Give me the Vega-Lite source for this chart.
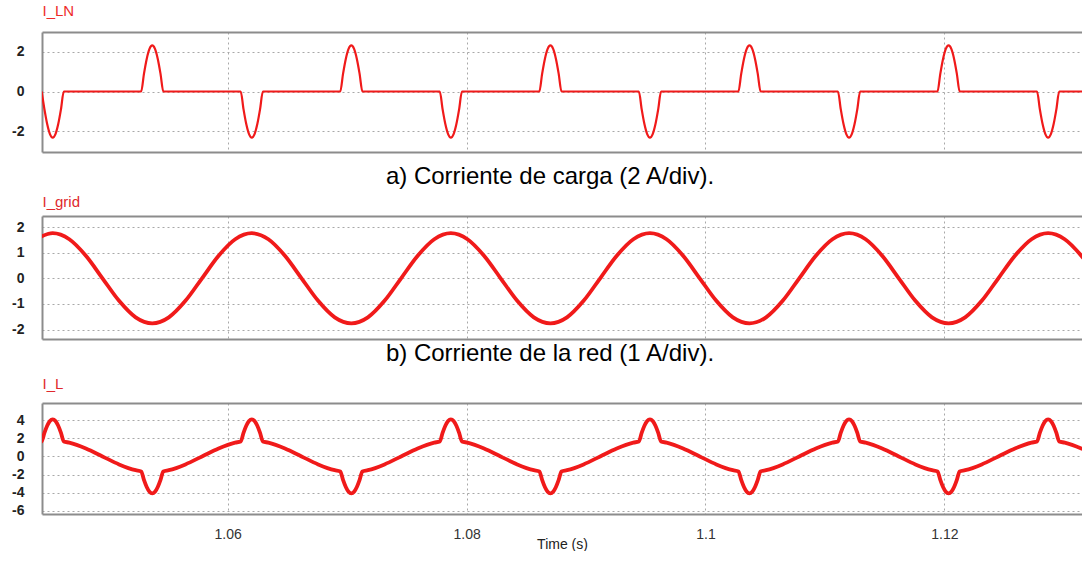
{
"$schema": "https://vega.github.io/schema/vega-lite/v6.json",
"padding": {"left": 11, "top": 3, "right": 0, "bottom": 0},
"background": "white",
"bounds": "flush",
"spacing": 64,
"config": {
  "font": "Liberation Sans",
  "view": {"stroke": null},
  "axis": {"gridColor": "#a8a8a8", "gridDash": [2, 3], "gridWidth": 1, "domainColor": "#8c8c8c", "domainWidth": 2, "ticks": false, "tickSize": 0, "labelFont": "Liberation Sans", "labelColor": "#111", "labelFontSize": 14, "labelOverlap": false, "titleFont": "Liberation Sans"},
  "axisLeft": {"labelFontWeight": "bold", "labelOverlap": false, "labelColor": "#222", "labelFontSize": 14},
  "title": {"font": "Liberation Sans"}
},
"datasets": {
"ln": [
{"t":1.044424,"v":0},{"t":1.044656,"v":-0.892},{"t":1.044887,"v":-1.647},{"t":1.045119,"v":-2.153},{"t":1.04535,"v":-2.33},{"t":1.045581,"v":-2.153},{"t":1.045813,"v":-1.647},{"t":1.046044,"v":-0.892},{"t":1.046276,"v":0},
{"t":1.052757,"v":0},{"t":1.052989,"v":0.892},{"t":1.05322,"v":1.647},{"t":1.053452,"v":2.153},{"t":1.053683,"v":2.33},{"t":1.053914,"v":2.153},{"t":1.054146,"v":1.647},{"t":1.054377,"v":0.892},{"t":1.054609,"v":0},
{"t":1.061091,"v":0},{"t":1.061323,"v":-0.892},{"t":1.061554,"v":-1.647},{"t":1.061786,"v":-2.153},{"t":1.062017,"v":-2.33},{"t":1.062248,"v":-2.153},{"t":1.06248,"v":-1.647},{"t":1.062711,"v":-0.892},{"t":1.062943,"v":0},
{"t":1.069424,"v":0},{"t":1.069656,"v":0.892},{"t":1.069887,"v":1.647},{"t":1.070119,"v":2.153},{"t":1.07035,"v":2.33},{"t":1.070581,"v":2.153},{"t":1.070813,"v":1.647},{"t":1.071044,"v":0.892},{"t":1.071276,"v":0},
{"t":1.077757,"v":0},{"t":1.077989,"v":-0.892},{"t":1.07822,"v":-1.647},{"t":1.078452,"v":-2.153},{"t":1.078683,"v":-2.33},{"t":1.078914,"v":-2.153},{"t":1.079146,"v":-1.647},{"t":1.079377,"v":-0.892},{"t":1.079609,"v":0},
{"t":1.086091,"v":0},{"t":1.086323,"v":0.892},{"t":1.086554,"v":1.647},{"t":1.086786,"v":2.153},{"t":1.087017,"v":2.33},{"t":1.087248,"v":2.153},{"t":1.08748,"v":1.647},{"t":1.087711,"v":0.892},{"t":1.087943,"v":0},
{"t":1.094424,"v":0},{"t":1.094656,"v":-0.892},{"t":1.094887,"v":-1.647},{"t":1.095119,"v":-2.153},{"t":1.09535,"v":-2.33},{"t":1.095581,"v":-2.153},{"t":1.095813,"v":-1.647},{"t":1.096044,"v":-0.892},{"t":1.096276,"v":0},
{"t":1.102757,"v":0},{"t":1.102989,"v":0.892},{"t":1.10322,"v":1.647},{"t":1.103452,"v":2.153},{"t":1.103683,"v":2.33},{"t":1.103914,"v":2.153},{"t":1.104146,"v":1.647},{"t":1.104377,"v":0.892},{"t":1.104609,"v":0},
{"t":1.111091,"v":0},{"t":1.111323,"v":-0.892},{"t":1.111554,"v":-1.647},{"t":1.111786,"v":-2.153},{"t":1.112017,"v":-2.33},{"t":1.112248,"v":-2.153},{"t":1.11248,"v":-1.647},{"t":1.112711,"v":-0.892},{"t":1.112943,"v":0},
{"t":1.119424,"v":0},{"t":1.119656,"v":0.892},{"t":1.119887,"v":1.647},{"t":1.120119,"v":2.153},{"t":1.12035,"v":2.33},{"t":1.120581,"v":2.153},{"t":1.120813,"v":1.647},{"t":1.121044,"v":0.892},{"t":1.121276,"v":0},
{"t":1.127757,"v":0},{"t":1.127989,"v":-0.892},{"t":1.12822,"v":-1.647},{"t":1.128452,"v":-2.153},{"t":1.128683,"v":-2.33},{"t":1.128914,"v":-2.153},{"t":1.129146,"v":-1.647},{"t":1.129377,"v":-0.892},{"t":1.129609,"v":0},
{"t":1.1325,"v":0}
],
"grid": [
{"t":1.043961,"v":1.524},
{"t":1.04535,"v":1.76},{"t":1.046739,"v":1.524},{"t":1.048128,"v":0.88},{"t":1.049517,"v":0},{"t":1.050906,"v":-0.88},{"t":1.052294,"v":-1.524},{"t":1.053683,"v":-1.76},{"t":1.055072,"v":-1.524},{"t":1.056461,"v":-0.88},{"t":1.05785,"v":0},{"t":1.059239,"v":0.88},{"t":1.060628,"v":1.524},
{"t":1.062017,"v":1.76},{"t":1.063406,"v":1.524},{"t":1.064794,"v":0.88},{"t":1.066183,"v":0},{"t":1.067572,"v":-0.88},{"t":1.068961,"v":-1.524},{"t":1.07035,"v":-1.76},{"t":1.071739,"v":-1.524},{"t":1.073128,"v":-0.88},{"t":1.074517,"v":0},{"t":1.075906,"v":0.88},{"t":1.077294,"v":1.524},
{"t":1.078683,"v":1.76},{"t":1.080072,"v":1.524},{"t":1.081461,"v":0.88},{"t":1.08285,"v":0},{"t":1.084239,"v":-0.88},{"t":1.085628,"v":-1.524},{"t":1.087017,"v":-1.76},{"t":1.088406,"v":-1.524},{"t":1.089794,"v":-0.88},{"t":1.091183,"v":0},{"t":1.092572,"v":0.88},{"t":1.093961,"v":1.524},
{"t":1.09535,"v":1.76},{"t":1.096739,"v":1.524},{"t":1.098128,"v":0.88},{"t":1.099517,"v":0},{"t":1.100906,"v":-0.88},{"t":1.102294,"v":-1.524},{"t":1.103683,"v":-1.76},{"t":1.105072,"v":-1.524},{"t":1.106461,"v":-0.88},{"t":1.10785,"v":0},{"t":1.109239,"v":0.88},{"t":1.110628,"v":1.524},
{"t":1.112017,"v":1.76},{"t":1.113406,"v":1.524},{"t":1.114794,"v":0.88},{"t":1.116183,"v":0},{"t":1.117572,"v":-0.88},{"t":1.118961,"v":-1.524},{"t":1.12035,"v":-1.76},{"t":1.121739,"v":-1.524},{"t":1.123128,"v":-0.88},{"t":1.124517,"v":0},{"t":1.125906,"v":0.88},{"t":1.127294,"v":1.524},
{"t":1.128683,"v":1.76},{"t":1.130072,"v":1.524},{"t":1.131461,"v":0.88},{"t":1.13285,"v":0}
],
"il": [
{"t":1.043961,"v":1.524},
{"t":1.044424,"v":1.654},{"t":1.044656,"v":2.592},{"t":1.044887,"v":3.38},{"t":1.045119,"v":3.906},{"t":1.04535,"v":4.09},{"t":1.045581,"v":3.906},{"t":1.045813,"v":3.38},{"t":1.046044,"v":2.592},{"t":1.046276,"v":1.654},
{"t":1.046739,"v":1.524},{"t":1.048128,"v":0.88},{"t":1.049517,"v":0},{"t":1.050906,"v":-0.88},{"t":1.052294,"v":-1.524},
{"t":1.052757,"v":-1.654},{"t":1.052989,"v":-2.592},{"t":1.05322,"v":-3.38},{"t":1.053452,"v":-3.906},{"t":1.053683,"v":-4.09},{"t":1.053914,"v":-3.906},{"t":1.054146,"v":-3.38},{"t":1.054377,"v":-2.592},{"t":1.054609,"v":-1.654},
{"t":1.055072,"v":-1.524},{"t":1.056461,"v":-0.88},{"t":1.05785,"v":0},{"t":1.059239,"v":0.88},{"t":1.060628,"v":1.524},
{"t":1.061091,"v":1.654},{"t":1.061323,"v":2.592},{"t":1.061554,"v":3.38},{"t":1.061786,"v":3.906},{"t":1.062017,"v":4.09},{"t":1.062248,"v":3.906},{"t":1.06248,"v":3.38},{"t":1.062711,"v":2.592},{"t":1.062943,"v":1.654},
{"t":1.063406,"v":1.524},{"t":1.064794,"v":0.88},{"t":1.066183,"v":0},{"t":1.067572,"v":-0.88},{"t":1.068961,"v":-1.524},
{"t":1.069424,"v":-1.654},{"t":1.069656,"v":-2.592},{"t":1.069887,"v":-3.38},{"t":1.070119,"v":-3.906},{"t":1.07035,"v":-4.09},{"t":1.070581,"v":-3.906},{"t":1.070813,"v":-3.38},{"t":1.071044,"v":-2.592},{"t":1.071276,"v":-1.654},
{"t":1.071739,"v":-1.524},{"t":1.073128,"v":-0.88},{"t":1.074517,"v":0},{"t":1.075906,"v":0.88},{"t":1.077294,"v":1.524},
{"t":1.077757,"v":1.654},{"t":1.077989,"v":2.592},{"t":1.07822,"v":3.38},{"t":1.078452,"v":3.906},{"t":1.078683,"v":4.09},{"t":1.078914,"v":3.906},{"t":1.079146,"v":3.38},{"t":1.079377,"v":2.592},{"t":1.079609,"v":1.654},
{"t":1.080072,"v":1.524},{"t":1.081461,"v":0.88},{"t":1.08285,"v":0},{"t":1.084239,"v":-0.88},{"t":1.085628,"v":-1.524},
{"t":1.086091,"v":-1.654},{"t":1.086323,"v":-2.592},{"t":1.086554,"v":-3.38},{"t":1.086786,"v":-3.906},{"t":1.087017,"v":-4.09},{"t":1.087248,"v":-3.906},{"t":1.08748,"v":-3.38},{"t":1.087711,"v":-2.592},{"t":1.087943,"v":-1.654},
{"t":1.088406,"v":-1.524},{"t":1.089794,"v":-0.88},{"t":1.091183,"v":0},{"t":1.092572,"v":0.88},{"t":1.093961,"v":1.524},
{"t":1.094424,"v":1.654},{"t":1.094656,"v":2.592},{"t":1.094887,"v":3.38},{"t":1.095119,"v":3.906},{"t":1.09535,"v":4.09},{"t":1.095581,"v":3.906},{"t":1.095813,"v":3.38},{"t":1.096044,"v":2.592},{"t":1.096276,"v":1.654},
{"t":1.096739,"v":1.524},{"t":1.098128,"v":0.88},{"t":1.099517,"v":0},{"t":1.100906,"v":-0.88},{"t":1.102294,"v":-1.524},
{"t":1.102757,"v":-1.654},{"t":1.102989,"v":-2.592},{"t":1.10322,"v":-3.38},{"t":1.103452,"v":-3.906},{"t":1.103683,"v":-4.09},{"t":1.103914,"v":-3.906},{"t":1.104146,"v":-3.38},{"t":1.104377,"v":-2.592},{"t":1.104609,"v":-1.654},
{"t":1.105072,"v":-1.524},{"t":1.106461,"v":-0.88},{"t":1.10785,"v":0},{"t":1.109239,"v":0.88},{"t":1.110628,"v":1.524},
{"t":1.111091,"v":1.654},{"t":1.111323,"v":2.592},{"t":1.111554,"v":3.38},{"t":1.111786,"v":3.906},{"t":1.112017,"v":4.09},{"t":1.112248,"v":3.906},{"t":1.11248,"v":3.38},{"t":1.112711,"v":2.592},{"t":1.112943,"v":1.654},
{"t":1.113406,"v":1.524},{"t":1.114794,"v":0.88},{"t":1.116183,"v":0},{"t":1.117572,"v":-0.88},{"t":1.118961,"v":-1.524},
{"t":1.119424,"v":-1.654},{"t":1.119656,"v":-2.592},{"t":1.119887,"v":-3.38},{"t":1.120119,"v":-3.906},{"t":1.12035,"v":-4.09},{"t":1.120581,"v":-3.906},{"t":1.120813,"v":-3.38},{"t":1.121044,"v":-2.592},{"t":1.121276,"v":-1.654},
{"t":1.121739,"v":-1.524},{"t":1.123128,"v":-0.88},{"t":1.124517,"v":0},{"t":1.125906,"v":0.88},{"t":1.127294,"v":1.524},
{"t":1.127757,"v":1.654},{"t":1.127989,"v":2.592},{"t":1.12822,"v":3.38},{"t":1.128452,"v":3.906},{"t":1.128683,"v":4.09},{"t":1.128914,"v":3.906},{"t":1.129146,"v":3.38},{"t":1.129377,"v":2.592},{"t":1.129609,"v":1.654},
{"t":1.130072,"v":1.524},{"t":1.131461,"v":0.88},{"t":1.13285,"v":0}
]
},
"vconcat": [
{
  "width": 1040, "height": 120,
  "data": {"name": "ln"},
  "title": {"text": "a) Corriente de carga (2 A/div).", "orient": "bottom", "anchor": "middle", "frame": "group", "fontSize": 24, "fontWeight": "normal", "color": "#000", "offset": 13, "dx": -12},
  "layer": [
    {"mark": {"type": "line", "color": "#f01a1a", "strokeWidth": 2.2, "clip": true, "interpolate": "monotone"},
     "encoding": {
       "x": {"field": "t", "type": "quantitative", "scale": {"domain": [1.044454, 1.13152], "nice": false, "zero": false},
             "axis": {"orient": "bottom", "values": [1.06, 1.08, 1.1, 1.12], "labels": false, "grid": true, "domain": true, "title": null}},
       "y": {"field": "v", "type": "quantitative", "scale": {"domain": [-3.06, 3.01], "nice": false, "zero": false},
             "axis": {"values": [-2, 0, 2], "grid": true, "domain": true, "labelPadding": 18, "labelOverlap": false, "labelFontSize": 14, "labelFontWeight": "bold", "labelColor": "#222", "labelExpr": "toString(datum.value)", "title": "I_LN", "titleAngle": 0, "titleAlign": "left", "titleBaseline": "alphabetic", "titleX": 0, "titleY": -17, "titleColor": "#ee2a2a", "titleFontSize": 15, "titleFontWeight": "normal"}}
     }},
    {"mark": {"type": "rule", "opacity": 0, "clip": true},
     "encoding": {
       "x": {"field": "t", "type": "quantitative", "scale": {"domain": [1.044454, 1.13152], "nice": false, "zero": false},
             "axis": {"orient": "top", "labels": false, "grid": false, "domain": true, "title": null}}
     }}
  ],
  "resolve": {"axis": {"x": "independent"}}
},
{
  "width": 1040, "height": 123,
  "data": {"name": "grid"},
  "title": {"text": "b) Corriente de la red (1 A/div).", "orient": "bottom", "anchor": "middle", "frame": "group", "fontSize": 24, "fontWeight": "normal", "color": "#000", "offset": 3, "dx": -12},
  "layer": [
    {"mark": {"type": "line", "color": "#f01a1a", "strokeWidth": 3.8, "clip": true, "interpolate": "monotone"},
     "encoding": {
       "x": {"field": "t", "type": "quantitative", "scale": {"domain": [1.044454, 1.13152], "nice": false, "zero": false},
             "axis": {"orient": "bottom", "values": [1.06, 1.08, 1.1, 1.12], "labels": false, "grid": true, "domain": true, "title": null}},
       "y": {"field": "v", "type": "quantitative", "scale": {"domain": [-2.37, 2.43], "nice": false, "zero": false},
             "axis": {"values": [-2, -1, 0, 1, 2], "grid": true, "domain": true, "labelPadding": 18, "labelOverlap": false, "labelFontSize": 14, "labelFontWeight": "bold", "labelColor": "#222", "labelExpr": "toString(datum.value)", "title": "I_grid", "titleAngle": 0, "titleAlign": "left", "titleBaseline": "alphabetic", "titleX": 0, "titleY": -10, "titleColor": "#e0282d", "titleFontSize": 15, "titleFontWeight": "normal"}}
     }},
    {"mark": {"type": "rule", "opacity": 0, "clip": true},
     "encoding": {
       "x": {"field": "t", "type": "quantitative", "scale": {"domain": [1.044454, 1.13152], "nice": false, "zero": false},
             "axis": {"orient": "top", "labels": false, "grid": false, "domain": true, "title": null}}
     }}
  ],
  "resolve": {"axis": {"x": "independent"}}
},
{
  "width": 1040, "height": 111,
  "data": {"name": "il"},
  "layer": [
    {"mark": {"type": "line", "color": "#f01a1a", "strokeWidth": 3.8, "clip": true, "interpolate": "monotone"},
     "encoding": {
       "x": {"field": "t", "type": "quantitative", "scale": {"domain": [1.044454, 1.13152], "nice": false, "zero": false},
             "axis": {"orient": "bottom", "values": [1.06, 1.08, 1.1, 1.12], "labels": true, "labelPadding": 13, "labelFontSize": 14, "labelColor": "#333", "labelOverlap": false, "labelExpr": "toString(datum.value)", "grid": true, "domain": true, "title": "Time (s)", "titleFontSize": 14, "titleFontWeight": "normal", "titleColor": "#222", "titleY": 23, "titleBaseline": "top"}},
       "y": {"field": "v", "type": "quantitative", "scale": {"domain": [-6.36, 5.9], "nice": false, "zero": false},
             "axis": {"values": [-6, -4, -2, 0, 2, 4], "grid": true, "domain": true, "labelPadding": 18, "labelOverlap": false, "labelFontSize": 14, "labelFontWeight": "bold", "labelColor": "#222", "labelExpr": "toString(datum.value)", "title": "I_L", "titleAngle": 0, "titleAlign": "left", "titleBaseline": "alphabetic", "titleX": 0, "titleY": -15, "titleColor": "#e0282d", "titleFontSize": 15, "titleFontWeight": "normal"}}
     }},
    {"mark": {"type": "rule", "opacity": 0, "clip": true},
     "encoding": {
       "x": {"field": "t", "type": "quantitative", "scale": {"domain": [1.044454, 1.13152], "nice": false, "zero": false},
             "axis": {"orient": "top", "labels": false, "grid": false, "domain": true, "title": null}}
     }}
  ],
  "resolve": {"axis": {"x": "independent"}}
}
]
}
